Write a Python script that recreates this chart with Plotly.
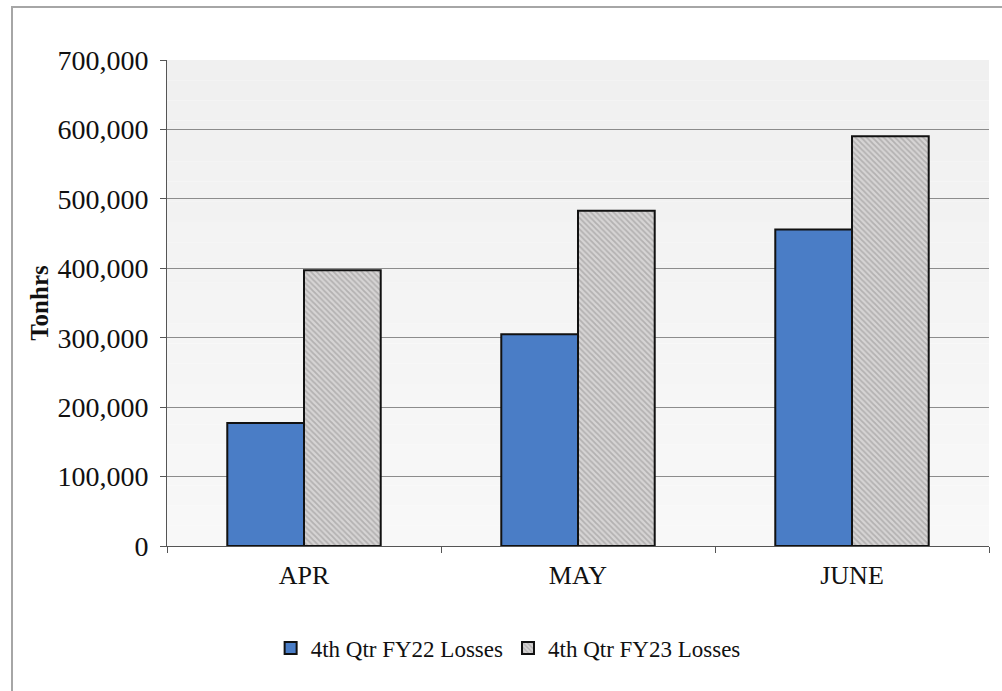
import plotly.graph_objects as go

# Monthly losses, in tonne-hours
months = ["APR", "MAY", "JUNE"]
fy22_losses = [177000, 305000, 456000]
fy23_losses = [397000, 483000, 590000]

y_tick_vals = [0, 100000, 200000, 300000, 400000, 500000, 600000, 700000]
y_tick_text = ["0", "100,000", "200,000", "300,000", "400,000", "500,000", "600,000", "700,000"]

serif = "Liberation Serif, Times New Roman, serif"

fig = go.Figure()
fig.add_trace(go.Bar(
    name="4th Qtr FY22 Losses",
    x=months, y=fy22_losses,
    marker=dict(color="#4a7dc6", line=dict(color="#111111", width=2)),
))
fig.add_trace(go.Bar(
    name="4th Qtr FY23 Losses",
    x=months, y=fy23_losses,
    marker=dict(
        color="#cfcccc",
        line=dict(color="#111111", width=2),
        pattern=dict(shape="\\", fgcolor="#8f8d8d", bgcolor="#d6d4d4", size=4, solidity=0.45),
    ),
))

# soft vertical gradient behind the plotting area
shapes = []
n_bands = 24
for i in range(n_bands):
    t = i / (n_bands - 1)
    g = int(round(240 + (248 - 240) * t))
    shapes.append(dict(
        type="rect", xref="x domain", yref="y domain", layer="below",
        x0=0, x1=1, y0=1 - (i + 1) / n_bands, y1=1 - i / n_bands,
        fillcolor=f"rgb({g},{g},{g})", line=dict(width=0),
    ))
# outer chart frame
shapes.append(dict(
    type="rect", xref="paper", yref="paper", layer="above",
    x0=(12 - 167) / 822, x1=1.2, y0=-0.5, y1=(546 - 7) / 486,
    line=dict(color="#a6a6a6", width=2), fillcolor="rgba(0,0,0,0)",
))

fig.update_layout(
    width=1002, height=691,
    margin=dict(l=167, r=13, t=60, b=145),
    paper_bgcolor="white",
    plot_bgcolor="rgba(0,0,0,0)",
    barmode="group",
    bargap=0.44,
    bargroupgap=0,
    font=dict(family=serif, color="#111111"),
    shapes=shapes,
    showlegend=True,
    legend=dict(
        orientation="h", x=0.415, xanchor="center", y=-0.21, yanchor="middle",
        font=dict(size=23, family=serif, color="#111111"),
        bgcolor="rgba(0,0,0,0)",
    ),
    xaxis=dict(
        showline=True, linecolor="#555555", linewidth=1,
        ticks="outside", ticklen=6, tickcolor="#555555", tickson="boundaries",
        tickfont=dict(size=26, family=serif, color="#111111"),
        ticklabelstandoff=6,
        showgrid=False,
    ),
    yaxis=dict(
        range=[0, 700000],
        tickvals=y_tick_vals, ticktext=y_tick_text,
        showline=True, linecolor="#555555", linewidth=1,
        ticks="outside", ticklen=6, tickcolor="#555555",
        tickfont=dict(size=28, family=serif, color="#111111"),
        ticklabelstandoff=6,
        showgrid=True, gridcolor="#8c8c8c", gridwidth=1,
        zeroline=False,
        title=dict(text="<b>Tonhrs</b>", font=dict(size=25, family=serif, color="#111111"), standoff=1),
    ),
)

fig.write_html("out.html")
